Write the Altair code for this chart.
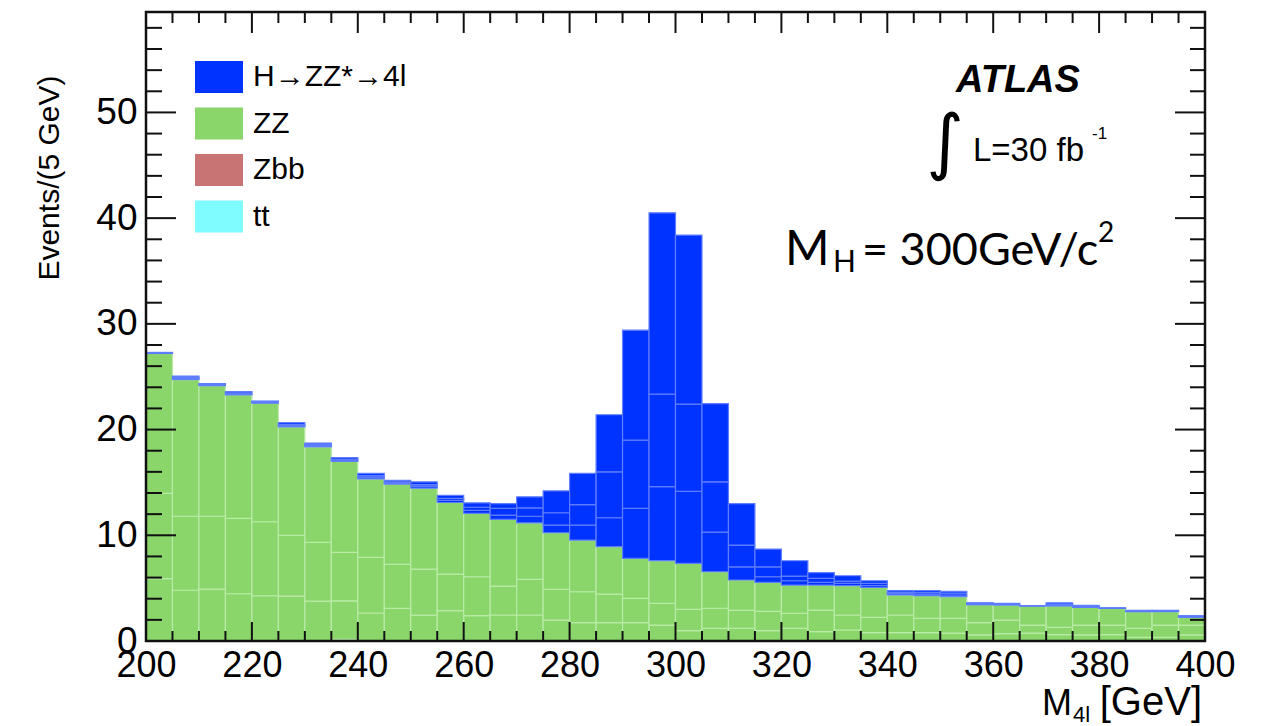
import altair as alt
import pandas as pd

# ---------------- data ----------------
bin_low = list(range(200, 400, 5))          # 5 GeV bins, 200..400
bin_width = 5

# cumulative levels of the stacked histogram (Events / 5 GeV)
zz_line1 = [5.9, 4.8, 4.91, 4.47, 4.28, 4.25, 3.78, 3.8, 2.65, 3.09,
            2.45, 2.87, 2.4, 2.46, 2.46, 1.98, 1.73, 1.73, 1.73, 1.51,
            0.98, 1.2, 1.2, 0.98, 1.2, 0.88, 1.04, 0.79, 0.79, 0.79,
            0.75, 0.57, 0.7, 0.75, 0.6, 0.57, 0.6, 0.35, 0.35, 0.57]
zz_line2 = [13.96, 11.8, 11.8, 11.6, 11.28, 10.0, 9.32, 8.38, 7.91, 7.25,
            6.8, 6.33, 6.08, 5.2, 5.83, 4.88, 4.66, 4.44, 4.03, 3.56,
            3.0, 3.1, 2.9, 2.8, 2.62, 2.93, 2.46, 2.24, 2.46, 2.14,
            2.14, 1.73, 1.98, 1.51, 1.29, 1.51, 1.51, 1.2, 1.51, 1.51]
zz_total = [27.2, 24.73, 24.16, 23.28, 22.5, 20.26, 18.37, 16.98, 15.34, 14.84,
            14.46, 13.1, 12.07, 11.5, 11.18, 10.24, 9.55, 8.92, 7.81, 7.6,
            7.34, 6.55, 5.77, 5.54, 5.29, 5.29, 5.23, 5.07, 4.35, 4.28,
            4.19, 3.43, 3.4, 3.31, 3.31, 3.18, 3.09, 2.77, 2.77, 2.24]
h_line1 = [27.23, 24.83, 24.22, 23.38, 22.56, 20.38, 18.47, 17.1, 15.5, 14.95,
           14.65, 13.3, 12.35, 11.9, 11.8, 10.96, 10.96, 11.66, 12.54, 14.6,
           14.15, 10.3, 7.02, 6.08, 5.7, 5.55, 5.45, 5.25, 4.48, 4.42,
           4.35, 3.49, 3.45, 3.32, 3.4, 3.24, 3.1, 2.81, 2.81, 2.29]
h_line2 = [27.26, 24.93, 24.28, 23.48, 22.62, 20.5, 18.57, 17.2, 15.65, 15.05,
           14.8, 13.5, 12.65, 12.54, 12.6, 12.13, 12.9, 16.0, 19.0, 23.35,
           22.4, 15.06, 9.07, 7.02, 6.14, 5.92, 5.67, 5.45, 4.6, 4.58,
           4.52, 3.55, 3.5, 3.33, 3.5, 3.3, 3.11, 2.85, 2.85, 2.34]
h_total = [27.3, 25.05, 24.35, 23.6, 22.7, 20.67, 18.71, 17.36, 15.85, 15.2,
           15.05, 13.77, 13.07, 13.0, 13.64, 14.2, 15.85, 21.4, 29.4, 40.5,
           38.4, 22.46, 13.0, 8.7, 7.59, 6.46, 6.17, 5.7, 4.76, 4.76,
           4.7, 3.62, 3.56, 3.35, 3.62, 3.37, 3.13, 2.9, 2.9, 2.39]
zbb = [0, 0, 0, 0, 0, 0, 0, 0.15, 0, 0,
       0, 0, 0, 0, 0, 0, 0, 0, 0, 0,
       0, 0, 0, 0, 0, 0, 0, 0, 0, 0,
       0, 0, 0, 0, 0, 0, 0, 0, 0, 0]
tt = [0] * 40

processes = ["H\u2192ZZ*\u21924l", "ZZ", "Zbb", "tt"]
fill_colors = ["#0033ff", "#8ad66b", "#c87474", "#7ffcff"]
edge_colors = {"H\u2192ZZ*\u21924l": "#5f7dff", "ZZ": "#b9eaa6", "Zbb": "#dca0a0", "tt": "#c0ffff"}

y_major = [0, 10, 20, 30, 40, 50]
y_minor = [v for v in range(2, 60, 2) if v % 10 != 0]
x_major = list(range(200, 401, 20))
x_minor = [v for v in range(205, 400, 5) if v % 20 != 0]

# ---------------- build table ----------------
rows = []
for i, lo in enumerate(bin_low):
    hi = lo + bin_width
    base = 0.0
    if tt[i] > 0:
        rows.append(dict(lo=lo, hi=hi, y0=base, y1=base + tt[i], proc="tt"))
        base += tt[i]
    if zbb[i] > 0:
        rows.append(dict(lo=lo, hi=hi, y0=base, y1=base + zbb[i], proc="Zbb"))
        base += zbb[i]
    levels = [base, zz_line1[i], zz_line2[i], zz_total[i]]
    for a, b in zip(levels[:-1], levels[1:]):
        rows.append(dict(lo=lo, hi=hi, y0=a, y1=b, proc="ZZ"))
    levels = [zz_total[i], h_line1[i], h_line2[i], h_total[i]]
    for a, b in zip(levels[:-1], levels[1:]):
        rows.append(dict(lo=lo, hi=hi, y0=a, y1=b, proc=processes[0]))
hist = pd.DataFrame(rows)
hist["edge"] = hist["proc"].map(edge_colors)

W, H = 1059, 629
FONT = "Liberation Sans"
xscale = alt.Scale(domain=[200, 400], nice=False, zero=False)
yscale = alt.Scale(domain=[0, 59.5], nice=False, zero=False)

bars = alt.Chart(hist).mark_rect(strokeWidth=1.2).encode(
    x=alt.X("lo:Q", scale=xscale, axis=alt.Axis(
        values=x_major, ticks=False, domain=False, grid=False, title=None,
        labelFont=FONT, labelFontSize=36, labelColor="black", labelPadding=7,
        format="d", labelFlush=False)),
    x2="hi:Q",
    y=alt.Y("y0:Q", scale=yscale, axis=alt.Axis(
        values=y_major, ticks=False, domain=False, grid=False,
        title="Events/(5 GeV)", titleFont=FONT, titleFontSize=30,
        titleFontWeight="normal", titleColor="black", titleAngle=270,
        titleAlign="right", titleBaseline="alphabetic", titleX=-88, titleY=63,
        labelFont=FONT, labelFontSize=37, labelColor="black", labelPadding=9,
        labelFlush=False)),
    y2="y1:Q",
    color=alt.Color("proc:N", scale=alt.Scale(domain=processes, range=fill_colors),
                    legend=alt.Legend(orient="none", legendX=49, legendY=41, title=None,
                                      symbolType="M-1,-0.667H1V0.667H-1Z", symbolSize=2304,
                                      symbolStrokeWidth=0, symbolOpacity=1,
                                      labelFont=FONT, labelFontSize=30, labelColor="black",
                                      labelOffset=10, rowPadding=5.5, labelLimit=400)),
    stroke=alt.Stroke("edge:N", scale=None),
)

def tick_layer(vals, orient, length):
    d = pd.DataFrame({"v": vals})
    c = alt.Chart(d).mark_rule(color="#111111", strokeWidth=2)
    if orient == "left":
        return c.encode(y=alt.Y("v:Q", scale=yscale, axis=None), x=alt.value(0), x2=alt.value(length))
    if orient == "right":
        return c.encode(y=alt.Y("v:Q", scale=yscale, axis=None), x=alt.value(W), x2=alt.value(W - length))
    if orient == "bottom":
        return c.encode(x=alt.X("v:Q", scale=xscale, axis=None), y=alt.value(H), y2=alt.value(H - length))
    return c.encode(x=alt.X("v:Q", scale=xscale, axis=None), y=alt.value(0), y2=alt.value(length))

ticks = [
    tick_layer(y_major, "left", 30), tick_layer(y_minor, "left", 16),
    tick_layer(y_major, "right", 30), tick_layer(y_minor, "right", 15),
    tick_layer(x_major, "bottom", 19), tick_layer(x_minor, "bottom", 10),
    tick_layer(x_major, "top", 21), tick_layer(x_minor, "top", 11),
]

frame = alt.Chart(pd.DataFrame({"a": [0]})).mark_rect(
    fillOpacity=0, stroke="#111111", strokeWidth=2.5).encode(
    x=alt.value(0), x2=alt.value(W), y=alt.value(0), y2=alt.value(H))

def label(text, px, py, size, font=FONT, weight="normal", style="normal", align="left",
          baseline="alphabetic"):
    return alt.Chart(pd.DataFrame({"t": [text]})).mark_text(
        font=font, fontSize=size, fontWeight=weight, fontStyle=style, align=align,
        baseline=baseline, color="black").encode(
        text="t:N", x=alt.value(px), y=alt.value(py))

texts = [
    label("ATLAS", 872, 80, 38, weight="bold", style="italic", align="center"),
    label("\u222b", 799, 132, 72, font="DejaVu Sans", align="center", baseline="middle"),
    label("L=30 fb", 827, 149, 33),
    label("-1", 946, 127, 17),
    label("M", 639, 253, 48, font="Lato"),
    label("H", 687, 260, 30, font="Lato"),
    label("= 300GeV/c", 716, 253, 45, font="Lato"),
    label("2", 952, 230, 28, font="Lato"),
    label("M", 896, 703, 36),
    label("4l", 927, 710, 22),
    label("[GeV]", 1056, 703, 40, align="right"),
]

chart = alt.layer(bars, *ticks, frame, *texts).properties(
    width=W, height=H,
    autosize=alt.AutoSizeParams(type="none"),
    padding={"left": 146, "top": 12, "right": 61, "bottom": 85},
).resolve_axis(x="independent", y="independent").configure(
    background="white").configure_view(stroke=None)

chart.save("out.html", embed_options={"renderer": "svg", "actions": False})
